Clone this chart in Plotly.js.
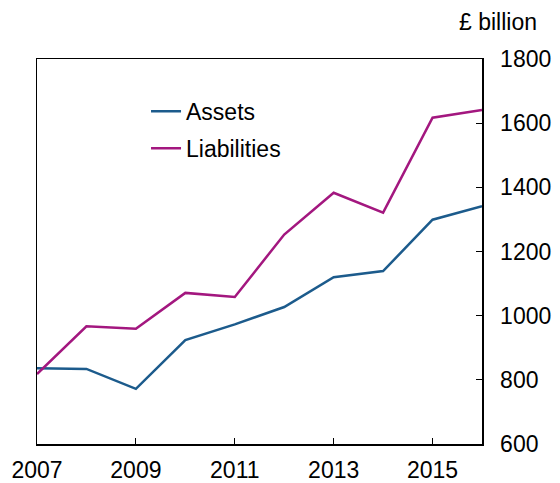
<!DOCTYPE html>
<html>
<head>
<meta charset="utf-8">
<script src="https://cdn.plot.ly/plotly-3.0.1.min.js"></script>
<style>html,body{margin:0;padding:0;background:#fff;}#chart{width:560px;height:483px;}</style>
</head>
<body>
<div id="chart"></div>
<script>
const years = [2007, 2008, 2009, 2010, 2011, 2012, 2013, 2014, 2015, 2016];
const assets = [836, 834, 772, 924, 973, 1027, 1120, 1139, 1299, 1341];
const liabilities = [818, 967, 959, 1071, 1058, 1253, 1383, 1321, 1617, 1641];
const xTickVals = [2007, 2009, 2011, 2013, 2015];
const xTickText = ['2007', '2009', '2011', '2013', '2015'];
const yTickVals = [600, 800, 1000, 1200, 1400, 1600, 1800];
const unitLabel = '£ billion';

const fontFam = 'Liberation Sans, Arial, sans-serif';
const traces = [
  {x: years, y: assets, name: 'Assets', type: 'scatter', mode: 'lines',
   line: {color: '#1c5b8c', width: 2.5}, legendgroup: 'a'},
  {x: years, y: liabilities, name: 'Liabilities', type: 'scatter', mode: 'lines',
   line: {color: '#a3177f', width: 2.5}, legendgroup: 'b'}
];
const layout = {
  width: 560, height: 483,
  margin: {l: 37, r: 78, t: 59, b: 39, pad: 0},
  paper_bgcolor: '#fff', plot_bgcolor: '#fff',
  font: {family: fontFam, size: 23, color: '#000'},
  showlegend: true,
  legend: {x: 0.245, y: 0.92, xanchor: 'left', yanchor: 'top', bgcolor: 'rgba(0,0,0,0)',
           font: {size: 23}, tracegroupgap: 4},
  xaxis: {range: [2007, 2016], tickvals: xTickVals, ticktext: xTickText,
          ticks: 'inside', ticklen: 6, tickcolor: '#000', tickwidth: 1,
          showline: true, linecolor: '#000', linewidth: 1.5, mirror: true,
          showgrid: false, zeroline: false, ticklabelstandoff: 5},
  yaxis: {range: [600, 1800], side: 'right', tickvals: yTickVals,
          ticks: 'inside', ticklen: 6, tickcolor: '#000', tickwidth: 1,
          showline: true, linecolor: '#000', linewidth: 1.5, mirror: true,
          showgrid: false, zeroline: false, ticklabelstandoff: 12},
  annotations: [{text: unitLabel, xref: 'paper', yref: 'paper', x: 1.128, y: 1.096,
                 xanchor: 'right', yanchor: 'middle', showarrow: false, font: {size: 23}}]
};
Plotly.newPlot('chart', traces, layout, {displayModeBar: false, staticPlot: true});
</script>
</body>
</html>
